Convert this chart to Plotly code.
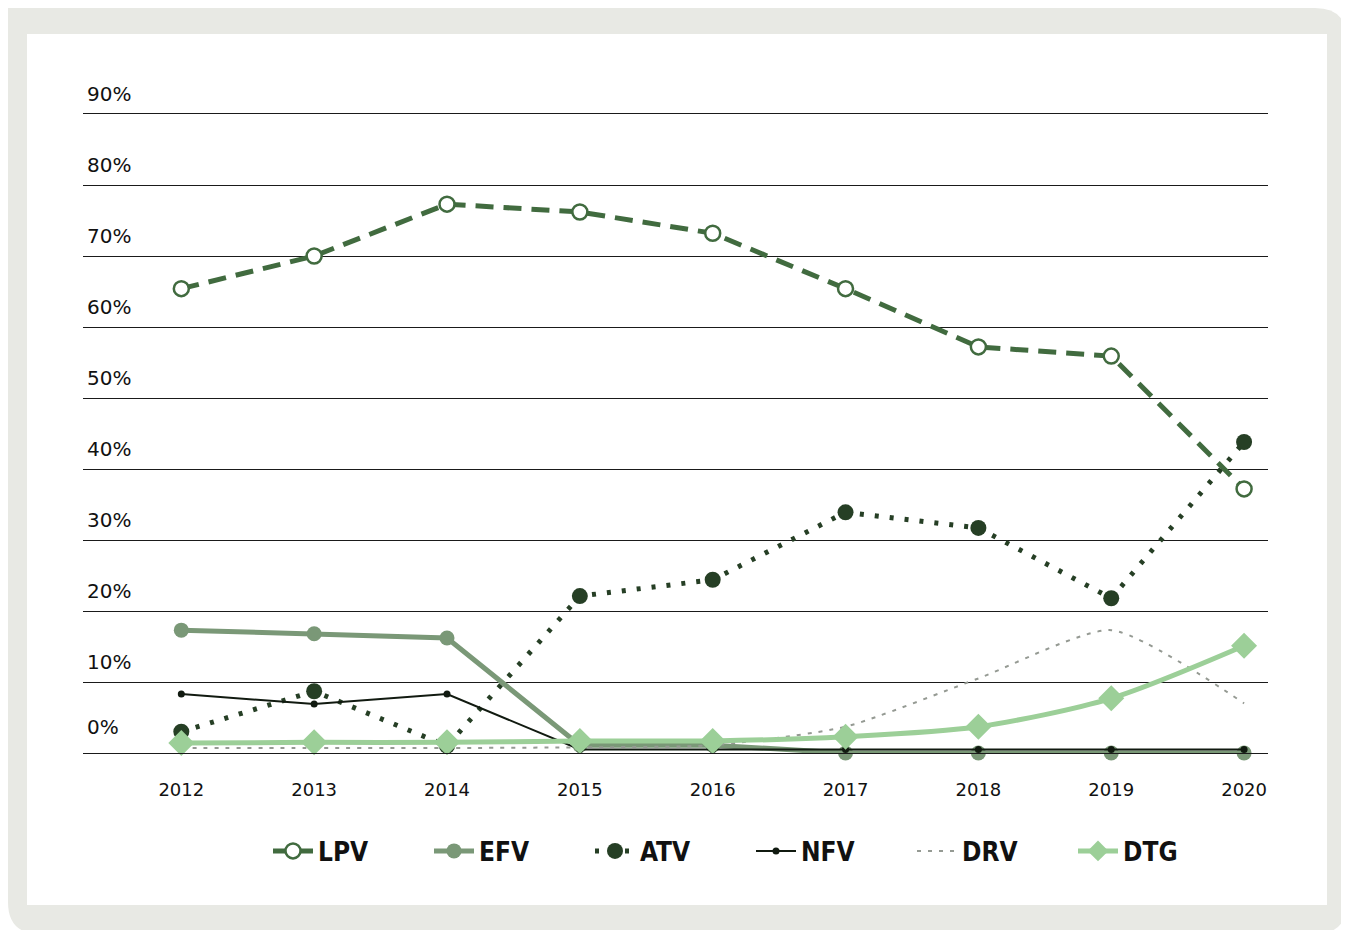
import plotly.graph_objects as go

years = [2012, 2013, 2014, 2015, 2016, 2017, 2018, 2019, 2020]

lpv = [65.4, 70.0, 77.3, 76.2, 73.2, 65.4, 57.2, 55.9, 37.2]
efv = [17.3, 16.8, 16.2, 1.1, 1.1, 0.0, 0.0, 0.0, 0.0]
atv = [3.0, 8.7, 1.0, 22.1, 24.4, 33.9, 31.7, 21.8, 43.8]
nfv = [8.3, 6.9, 8.3, 0.5, 0.5, 0.5, 0.5, 0.5, 0.5]
drv = [0.7, 0.7, 0.7, 0.8, 1.1, 3.7, 10.5, 17.3, 7.0]
dtg = [1.4, 1.5, 1.5, 1.7, 1.7, 2.3, 3.7, 7.7, 15.1]

y_ticks = [0, 10, 20, 30, 40, 50, 60, 70, 80, 90]

# page body has an 8px margin, so the figure is drawn 8px smaller and shifted
OFF = 8
W, H = 1349 - OFF, 930 - OFF
L, R, T, B = 83, 1268, 114, 753   # plot area in screen pixels


def px(x):
    return (x - L) / (R - L)


def py(y):
    return (B - y) / (B - T)


fig = go.Figure()

fig.add_trace(go.Scatter(
    x=years, y=lpv, name="LPV", mode="lines+markers",
    line=dict(color="#416b3f", width=5, dash="18px,10px"),
    marker=dict(size=15, color="white", line=dict(color="#416b3f", width=2.5)),
))
fig.add_trace(go.Scatter(
    x=years, y=efv, name="EFV", mode="lines+markers",
    line=dict(color="#7a9877", width=5),
    marker=dict(size=15, color="#7a9877"),
))
fig.add_trace(go.Scatter(
    x=years, y=atv, name="ATV", mode="lines+markers",
    line=dict(color="#263f25", width=5, dash="4px,11px"),
    marker=dict(size=16, color="#263f25"),
))
fig.add_trace(go.Scatter(
    x=years, y=nfv, name="NFV", mode="lines+markers",
    line=dict(color="#111a10", width=2),
    marker=dict(size=7, color="#111a10"),
))
fig.add_trace(go.Scatter(
    x=years, y=drv, name="DRV", mode="lines",
    line=dict(color="#959a93", width=2, dash="4px,7px", shape="spline", smoothing=0.6),
))
fig.add_trace(go.Scatter(
    x=years, y=dtg, name="DTG", mode="lines+markers",
    line=dict(color="#9ccf98", width=5, shape="spline", smoothing=0.8),
    marker=dict(size=20, symbol="diamond", color="#9ccf98"),
))
fig.update_traces(cliponaxis=False)

# frame: grey card (square top-left corner, others rounded) with white panel
x0, x1, y0, y1 = px(OFF), px(1347), py(OFF), py(934)
r, ry = 32 / (R - L), 32 / (B - T)
frame_path = (
    f"M {x0},{y0} L {x1 - r},{y0} Q {x1},{y0} {x1},{y0 - ry} "
    f"L {x1},{y1 + ry} Q {x1},{y1} {x1 - r},{y1} "
    f"L {x0 + r},{y1} Q {x0},{y1} {x0},{y1 + ry} Z"
)
shapes = [
    dict(type="path", xref="paper", yref="paper", path=frame_path,
         fillcolor="#e8e9e4", line=dict(width=0), layer="below"),
    dict(type="rect", xref="paper", yref="paper",
         x0=px(27), x1=px(1327), y0=py(34), y1=py(905),
         fillcolor="white", line=dict(width=0), layer="below"),
]

annotations = [
    dict(x=px(85), y=v, xref="paper", yref="y", text=f"{v}%", showarrow=False,
         xanchor="left", yanchor="middle", yshift=20 if v else 26,
         font=dict(family="DejaVu Sans", size=20, color="#111"))
    for v in y_ticks
]

fig.update_layout(
    width=W, height=H,
    margin=dict(l=L - OFF, r=W - (R - OFF), t=T - OFF, b=H - (B - OFF), pad=0),
    paper_bgcolor="white", plot_bgcolor="rgba(0,0,0,0)",
    font=dict(family="DejaVu Sans, sans-serif", color="#111"),
    shapes=shapes, annotations=annotations,
    showlegend=True,
    legend=dict(
        orientation="h", x=px(268), xanchor="left", y=py(851), yanchor="middle",
        font=dict(family="DejaVu Sans Condensed, Roboto Condensed, Roboto, sans-serif",
                  size=26, color="#111", weight=600),
        itemwidth=40, entrywidth=106, bgcolor="rgba(0,0,0,0)",
    ),
)
fig.update_xaxes(
    range=[2011.26, 2020.18], tickvals=years, showgrid=False, zeroline=False,
    showline=True, mirror=True, linecolor="#1a1a1a", linewidth=1.3,
    ticks="", ticklabelstandoff=20,
    tickfont=dict(family="DejaVu Sans", size=18, color="#111"),
)
fig.update_yaxes(
    range=[0, 90], tickvals=y_ticks, showticklabels=False, showgrid=True,
    gridcolor="#1a1a1a", gridwidth=1.3, zeroline=False, showline=False,
)

fig.write_html("out.html")
